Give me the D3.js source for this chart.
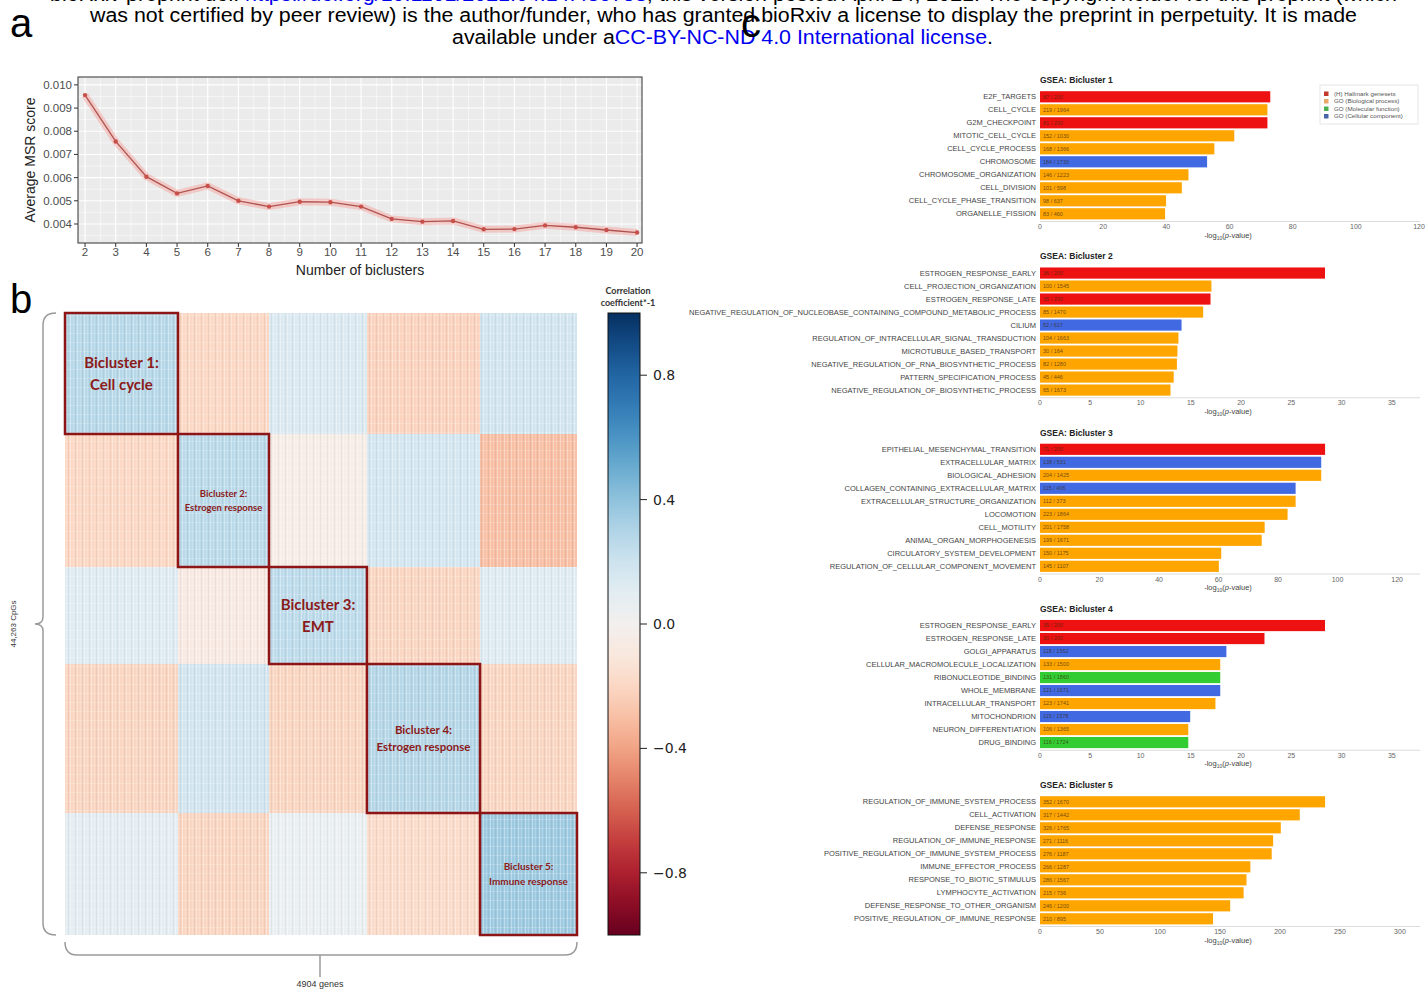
<!DOCTYPE html>
<html><head><meta charset="utf-8">
<script src="https://cdn.jsdelivr.net/npm/d3@7"></script>
<style>
body{margin:0;background:#fff;}
svg{display:block;font-family:"Liberation Sans",Arial,sans-serif;}
</style></head><body>
<svg id="fig" width="1426" height="989"></svg>
<script>
// ---------- Panel a: average MSR score by number of biclusters ----------
const kValues = [2,3,4,5,6,7,8,9,10,11,12,13,14,15,16,17,18,19,20];
const msrScores = [0.00956,0.00756,0.00604,0.00532,0.00564,0.00500,0.00475,0.00496,0.00494,
                   0.00475,0.00422,0.00410,0.00413,0.00377,0.00378,0.00394,0.00386,0.00374,0.00363];
const msrTicks = [0.004,0.005,0.006,0.007,0.008,0.009,0.010];

// ---------- Panel b: block correlation heatmap ----------
const biclusterNames = ["Bicluster 1","Bicluster 2","Bicluster 3","Bicluster 4","Bicluster 5"];
const geneCounts = [1082, 872, 938, 1083, 929];      // 4904 genes
const cpgCounts  = [8611, 9465, 6903, 10603, 8681];  // 44,263 CpGs
// mean (correlation * -1) for CpG group (row) vs gene group (column)
const blockCorr = [
  [ 0.28,-0.20, 0.14,-0.22, 0.18],
  [-0.20, 0.27,-0.05, 0.17,-0.30],
  [ 0.12,-0.08, 0.26,-0.21, 0.12],
  [-0.21, 0.18,-0.21, 0.29,-0.21],
  [ 0.10,-0.21, 0.06,-0.18, 0.36]
];
const blockLabels = [["Bicluster 1:","Cell cycle"],["Bicluster 2:","Estrogen response"],
                     ["Bicluster 3:","EMT"],["Bicluster 4:","Estrogen response"],
                     ["Bicluster 5:","Immune response"]];
const blockLabelSizes = [15, 9.5, 15, 11.5, 10];
const colorbarTicks = [0.8, 0.4, 0.0, -0.4, -0.8];

// ---------- Panel c: GSEA per bicluster ----------
const sourceNames = ["(H) Hallmark genesets","GO (Biological process)","GO (Molecular function)","GO (Cellular component)"];
const sourceKeys = ["H","BP","MF","CC"];
const sourceColors = ["#ee1111","#ffa500","#33cc33","#4169e1"];
const legendColors = ["#c0392b","#e8a868","#4caf50","#4a64a8"];

const gsea1Terms = ["E2F_TARGETS","CELL_CYCLE","G2M_CHECKPOINT","MITOTIC_CELL_CYCLE","CELL_CYCLE_PROCESS",
  "CHROMOSOME","CHROMOSOME_ORGANIZATION","CELL_DIVISION","CELL_CYCLE_PHASE_TRANSITION","ORGANELLE_FISSION"];
const gsea1Values = [72.9,72.0,72.0,61.5,55.2,52.9,47.0,44.9,39.9,39.6];
const gsea1Sources = ["H","BP","H","BP","BP","CC","BP","BP","BP","BP"];
const gsea1Counts = ["87 / 200","219 / 1964","81 / 200","152 / 1030","168 / 1366","184 / 1730","146 / 1223","101 / 598","98 / 637","83 / 460"];

const gsea2Terms = ["ESTROGEN_RESPONSE_EARLY","CELL_PROJECTION_ORGANIZATION","ESTROGEN_RESPONSE_LATE",
  "NEGATIVE_REGULATION_OF_NUCLEOBASE_CONTAINING_COMPOUND_METABOLIC_PROCESS","CILIUM",
  "REGULATION_OF_INTRACELLULAR_SIGNAL_TRANSDUCTION","MICROTUBULE_BASED_TRANSPORT",
  "NEGATIVE_REGULATION_OF_RNA_BIOSYNTHETIC_PROCESS","PATTERN_SPECIFICATION_PROCESS",
  "NEGATIVE_REGULATION_OF_BIOSYNTHETIC_PROCESS"];
const gsea2Values = [28.35,17.05,16.96,16.23,14.08,13.77,13.67,13.62,13.30,12.98];
const gsea2Sources = ["H","BP","H","BP","CC","BP","BP","BP","BP","BP"];
const gsea2Counts = ["36 / 200","100 / 1545","35 / 200","85 / 1470","52 / 617","104 / 1663","30 / 164","82 / 1280","45 / 446","65 / 1673"];

const gsea3Terms = ["EPITHELIAL_MESENCHYMAL_TRANSITION","EXTRACELLULAR_MATRIX","BIOLOGICAL_ADHESION",
  "COLLAGEN_CONTAINING_EXTRACELLULAR_MATRIX","EXTRACELLULAR_STRUCTURE_ORGANIZATION","LOCOMOTION",
  "CELL_MOTILITY","ANIMAL_ORGAN_MORPHOGENESIS","CIRCULATORY_SYSTEM_DEVELOPMENT",
  "REGULATION_OF_CELLULAR_COMPONENT_MOVEMENT"];
const gsea3Values = [95.8,94.5,94.5,85.9,85.9,83.2,75.5,74.5,60.9,60.1];
const gsea3Sources = ["H","CC","BP","CC","BP","BP","BP","BP","BP","BP"];
const gsea3Counts = ["71 / 200","138 / 531","204 / 1425","115 / 406","112 / 373","223 / 1864","201 / 1758","199 / 1671","150 / 1175","145 / 1107"];

const gsea4Terms = ["ESTROGEN_RESPONSE_EARLY","ESTROGEN_RESPONSE_LATE","GOLGI_APPARATUS",
  "CELLULAR_MACROMOLECULE_LOCALIZATION","RIBONUCLEOTIDE_BINDING","WHOLE_MEMBRANE",
  "INTRACELLULAR_TRANSPORT","MITOCHONDRION","NEURON_DIFFERENTIATION","DRUG_BINDING"];
const gsea4Values = [28.35,22.33,18.54,17.93,17.93,17.93,17.45,14.94,14.75,14.75];
const gsea4Sources = ["H","H","CC","BP","MF","CC","BP","CC","BP","MF"];
const gsea4Counts = ["35 / 200","30 / 200","118 / 1562","133 / 1500","131 / 1860","121 / 1671","123 / 1741","115 / 1578","106 / 1365","116 / 1724"];

const gsea5Terms = ["REGULATION_OF_IMMUNE_SYSTEM_PROCESS","CELL_ACTIVATION","DEFENSE_RESPONSE",
  "REGULATION_OF_IMMUNE_RESPONSE","POSITIVE_REGULATION_OF_IMMUNE_SYSTEM_PROCESS",
  "IMMUNE_EFFECTOR_PROCESS","RESPONSE_TO_BIOTIC_STIMULUS","LYMPHOCYTE_ACTIVATION",
  "DEFENSE_RESPONSE_TO_OTHER_ORGANISM","POSITIVE_REGULATION_OF_IMMUNE_RESPONSE"];
const gsea5Values = [237.6,216.5,200.7,194.3,193.1,175.3,172.1,169.7,158.5,144.2];
const gsea5Sources = ["BP","BP","BP","BP","BP","BP","BP","BP","BP","BP"];
const gsea5Counts = ["352 / 1670","317 / 1442","326 / 1765","271 / 1116","276 / 1187","266 / 1287","286 / 1567","215 / 736","246 / 1200","210 / 895"];

const gseaAxisMax = [120.3, 37.8, 127.7, 37.8, 316.7];
const gseaTicks = [d3.range(0,121,20), d3.range(0,36,5), d3.range(0,121,20), d3.range(0,36,5), d3.range(0,301,50)];

const svg = d3.select("#fig");

// ---------- preprint header ----------
const hdr = svg.append("g").attr("font-size", 20);
const l1 = hdr.append("text").attr("x", 50).attr("y", 1).attr("textLength", 1347).attr("lengthAdjust","spacingAndGlyphs");
l1.append("tspan").text("bioRxiv preprint doi: ");
l1.append("tspan").attr("fill","#0000ee").text("https://doi.org/10.1101/2021.04.14.439758");
l1.append("tspan").text("; this version posted April 14, 2021. The copyright holder for this preprint (which");
hdr.append("text").attr("x", 90).attr("y", 22).attr("textLength", 1267).attr("lengthAdjust","spacingAndGlyphs")
  .text("was not certified by peer review) is the author/funder, who has granted bioRxiv a license to display the preprint in perpetuity. It is made");
const l3 = hdr.append("text").attr("x", 452).attr("y", 44).attr("textLength", 541).attr("lengthAdjust","spacingAndGlyphs");
l3.append("tspan").text("available under a");
l3.append("tspan").attr("fill","#0000ee").text("CC-BY-NC-ND 4.0 International license");
l3.append("tspan").text(".");

// panel letters
[["a",10,37],["b",10,313],["c",741,37]].forEach(([t,x,y]) =>
  svg.append("text").attr("x",x).attr("y",y).attr("font-size",40).text(t));

// ---------- Panel a ----------
{
  const x = d3.scaleLinear().domain([1.77, 20.16]).range([78, 642]);
  const y = d3.scaleLinear().domain([0.00318, 0.01034]).range([243, 77]);
  const g = svg.append("g");
  g.append("rect").attr("x",78).attr("y",77).attr("width",564).attr("height",166).attr("fill","#ebebeb");
  const yMinor = d3.range(0.0035, 0.0101, 0.001);
  const xMinor = d3.range(2.5, 20, 1);
  g.selectAll(".ymin").data(yMinor).join("line").attr("x1",78).attr("x2",642)
    .attr("y1",d=>y(d)).attr("y2",d=>y(d)).attr("stroke","#fff").attr("stroke-width",0.5);
  g.selectAll(".xmin").data(xMinor).join("line").attr("y1",77).attr("y2",243)
    .attr("x1",d=>x(d)).attr("x2",d=>x(d)).attr("stroke","#fff").attr("stroke-width",0.5);
  g.selectAll(".ymaj").data(msrTicks).join("line").attr("x1",78).attr("x2",642)
    .attr("y1",d=>y(d)).attr("y2",d=>y(d)).attr("stroke","#fff").attr("stroke-width",1.1);
  g.selectAll(".xmaj").data(kValues).join("line").attr("y1",77).attr("y2",243)
    .attr("x1",d=>x(d)).attr("x2",d=>x(d)).attr("stroke","#fff").attr("stroke-width",1.1);
  const line = d3.line().x((d,i)=>x(kValues[i])).y(d=>y(d));
  g.append("path").datum(msrScores).attr("d",line).attr("fill","none")
    .attr("stroke","#f8766d").attr("stroke-opacity",0.3).attr("stroke-width",7).attr("stroke-linejoin","round");
  g.append("path").datum(msrScores).attr("d",line).attr("fill","none")
    .attr("stroke","#b0524e").attr("stroke-width",1.3);
  g.selectAll("circle").data(msrScores).join("circle").attr("cx",(d,i)=>x(kValues[i])).attr("cy",d=>y(d))
    .attr("r",2.2).attr("fill","#c8504b");
  g.append("rect").attr("x",78).attr("y",77).attr("width",564).attr("height",166)
    .attr("fill","none").attr("stroke","#333").attr("stroke-width",1);
  // ticks
  g.selectAll(".yt").data(msrTicks).join("line").attr("x1",74).attr("x2",78)
    .attr("y1",d=>y(d)).attr("y2",d=>y(d)).attr("stroke","#333");
  g.selectAll(".ytl").data(msrTicks).join("text").attr("x",72).attr("y",d=>y(d)).attr("dy","0.35em")
    .attr("text-anchor","end").attr("font-size",11.5).attr("fill","#4d4d4d").text(d3.format(".3f"));
  g.selectAll(".xt").data(kValues).join("line").attr("y1",243).attr("y2",247)
    .attr("x1",d=>x(d)).attr("x2",d=>x(d)).attr("stroke","#333");
  g.selectAll(".xtl").data(kValues).join("text").attr("x",d=>x(d)).attr("y",256)
    .attr("text-anchor","middle").attr("font-size",11.5).attr("fill","#4d4d4d").text(d=>d);
  g.append("text").attr("transform","translate(35,160) rotate(-90)").attr("text-anchor","middle")
    .attr("font-size",14).attr("fill","#222").text("Average MSR score");
  g.append("text").attr("x",360).attr("y",275).attr("text-anchor","middle")
    .attr("font-size",14).attr("fill","#222").text("Number of biclusters");
}

// ---------- Panel b ----------
{
  const totalGenes = d3.sum(geneCounts), totalCpG = d3.sum(cpgCounts);
  const gx = d3.scaleLinear().domain([0, totalGenes]).range([65, 577]);
  const gy = d3.scaleLinear().domain([0, totalCpG]).range([313, 935]);
  const gStart = [0, ...d3.cumsum(geneCounts)];
  const cStart = [0, ...d3.cumsum(cpgCounts)];
  const color = v => d3.interpolateRdBu((v + 1) / 2);
  const cells = [];
  blockCorr.forEach((row, r) => row.forEach((v, c) => cells.push({r, c, v})));

  const defs = svg.append("defs");
  const pat = defs.append("pattern").attr("id","geneTex").attr("patternUnits","userSpaceOnUse")
    .attr("width",7).attr("height",9);
  pat.append("rect").attr("x",0).attr("width",1).attr("height",9).attr("fill","#fff").attr("opacity",0.35);
  pat.append("rect").attr("x",3).attr("width",1).attr("height",9).attr("fill","#fff").attr("opacity",0.18);
  pat.append("rect").attr("x",5).attr("width",1).attr("height",9).attr("fill","#000").attr("opacity",0.05);
  pat.append("rect").attr("y",0).attr("width",7).attr("height",1).attr("fill","#fff").attr("opacity",0.18);

  const g = svg.append("g");
  g.selectAll("rect.cell").data(cells).join("rect").attr("class","cell")
    .attr("x", d => gx(gStart[d.c])).attr("y", d => gy(cStart[d.r]))
    .attr("width", d => gx(gStart[d.c+1]) - gx(gStart[d.c]))
    .attr("height", d => gy(cStart[d.r+1]) - gy(cStart[d.r]))
    .attr("fill", d => color(d.v)).attr("shape-rendering","crispEdges");
  g.append("rect").attr("x",65).attr("y",313).attr("width",512).attr("height",622).attr("fill","url(#geneTex)");

  // bicluster outlines
  g.selectAll("rect.box").data(biclusterNames).join("rect").attr("class","box")
    .attr("x",(d,i)=>gx(gStart[i])).attr("y",(d,i)=>gy(cStart[i]))
    .attr("width",(d,i)=>gx(gStart[i+1])-gx(gStart[i])).attr("height",(d,i)=>gy(cStart[i+1])-gy(cStart[i]))
    .attr("fill","none").attr("stroke","#8e1515").attr("stroke-width",2.5);

  // labels inside outlines
  biclusterNames.forEach((n, i) => {
    const cx = (gx(gStart[i]) + gx(gStart[i+1])) / 2;
    const cy = (gy(cStart[i]) + gy(cStart[i+1])) / 2;
    const fs = blockLabelSizes[i];
    const t = g.append("text").attr("text-anchor","middle").attr("font-family","Lato, 'Open Sans', sans-serif")
      .attr("font-weight","bold").attr("font-size",fs).attr("fill","#8b1a1a");
    blockLabels[i].forEach((s, k) => t.append("tspan").attr("x",cx)
      .attr("y", cy + (k - 0.5) * fs * 1.45 + fs * 0.35).text(s));
  });

  // braces
  g.append("path").attr("d","M56,313 Q43,313 43,325 L43,617 Q43,624 35,624 Q43,624 43,631 L43,923 Q43,935 56,935")
    .attr("fill","none").attr("stroke","#9a9a9a").attr("stroke-width",1.5);
  g.append("text").attr("transform","translate(16,624) rotate(-90)").attr("text-anchor","middle")
    .attr("font-size",8).attr("fill","#333").text("44,263 CpGs");
  g.append("path").attr("d","M65,942 Q65,955 77,955 L565,955 Q577,955 577,942 M320,955 L320,977")
    .attr("fill","none").attr("stroke","#9a9a9a").attr("stroke-width",1.5);
  g.append("text").attr("x",320).attr("y",987).attr("text-anchor","middle")
    .attr("font-size",9).attr("fill","#333").text("4904 genes");

  // colour bar
  const cy = d3.scaleLinear().domain([-1, 1]).range([935, 313]);
  const grad = defs.append("linearGradient").attr("id","rdbu").attr("x1",0).attr("x2",0).attr("y1",1).attr("y2",0);
  d3.range(0, 1.0001, 0.05).forEach(t => grad.append("stop").attr("offset", t).attr("stop-color", d3.interpolateRdBu(t)));
  g.append("rect").attr("x",608).attr("y",313).attr("width",32).attr("height",622)
    .attr("fill","url(#rdbu)").attr("stroke","#111").attr("stroke-width",1);
  g.selectAll(".cbt").data(colorbarTicks).join("line").attr("x1",640).attr("x2",647)
    .attr("y1",d=>cy(d)).attr("y2",d=>cy(d)).attr("stroke","#222");
  g.selectAll(".cbl").data(colorbarTicks).join("text").attr("x",653).attr("y",d=>cy(d)).attr("dy","0.35em")
    .attr("font-family","'DejaVu Sans', sans-serif").attr("font-size",14).attr("fill","#222")
    .text(d3.format(".1f"));
  const ct = g.append("text").attr("text-anchor","middle").attr("font-family","Lato, sans-serif")
    .attr("font-weight","bold").attr("font-size",9).attr("fill","#333");
  ct.append("tspan").attr("x",628).attr("y",294).text("Correlation");
  ct.append("tspan").attr("x",628).attr("y",306).text("coefficient*-1");
}

// ---------- Panel c ----------
{
  const sets = [
    {terms: gsea1Terms, values: gsea1Values, sources: gsea1Sources, counts: gsea1Counts},
    {terms: gsea2Terms, values: gsea2Values, sources: gsea2Sources, counts: gsea2Counts},
    {terms: gsea3Terms, values: gsea3Values, sources: gsea3Sources, counts: gsea3Counts},
    {terms: gsea4Terms, values: gsea4Values, sources: gsea4Sources, counts: gsea4Counts},
    {terms: gsea5Terms, values: gsea5Values, sources: gsea5Sources, counts: gsea5Counts}
  ];
  const srcColor = d3.scaleOrdinal().domain(sourceKeys).range(sourceColors);
  sets.forEach((s, i) => {
    const top = 80 + i * 176.25;
    const g = svg.append("g");
    const x = d3.scaleLinear().domain([0, gseaAxisMax[i]]).range([1040, 1420]);
    const y = d3.scaleBand().domain(s.terms).range([top + 10.3, top + 140.3]).paddingInner(0.14).paddingOuter(0.07);
    g.append("text").attr("x",1040).attr("y",top+3).attr("font-weight","bold").attr("font-size",8.5)
      .attr("fill","#222").text("GSEA: " + biclusterNames[i]);
    g.selectAll("rect").data(s.values).join("rect")
      .attr("x", x(0)).attr("y", (d,k)=>y(s.terms[k])).attr("height", y.bandwidth())
      .attr("width", d => x(d) - x(0)).attr("fill", (d,k)=>srcColor(s.sources[k]));
    g.selectAll(".term").data(s.terms).join("text").attr("x",1036).attr("y",d=>y(d)+y.bandwidth()/2)
      .attr("dy","0.35em").attr("text-anchor","end").attr("font-size",7.5).attr("fill","#444").text(d=>d);
    g.selectAll(".cnt").data(s.counts).join("text").attr("x",1043).attr("y",(d,k)=>y(s.terms[k])+y.bandwidth()/2)
      .attr("dy","0.35em").attr("font-size",5.5).attr("fill","#3a2a10").attr("fill-opacity",0.75).text(d=>d);
    g.append("line").attr("x1",1040).attr("x2",1420).attr("y1",top+141.5).attr("y2",top+141.5)
      .attr("stroke","#dcdcdc").attr("stroke-width",1);
    g.selectAll(".tk").data(gseaTicks[i]).join("text").attr("x",d=>x(d)).attr("y",top+149)
      .attr("text-anchor","middle").attr("font-size",7).attr("fill","#666").text(d=>d);
    const at = g.append("text").attr("x",1228).attr("y",top+157.5).attr("text-anchor","middle")
      .attr("font-size",7.5).attr("fill","#444");
    at.append("tspan").text("-log");
    at.append("tspan").attr("font-size",5).attr("dy",2).text("10");
    at.append("tspan").attr("dy",-2).text("(");
    at.append("tspan").attr("font-style","italic").text("p");
    at.append("tspan").text("-value)");
  });
  // legend
  const lg = svg.append("g");
  lg.append("rect").attr("x",1320).attr("y",85).attr("width",98).attr("height",39)
    .attr("fill","#fff").attr("stroke","#e6e6e6");
  lg.selectAll("rect.sw").data(sourceNames).join("rect").attr("class","sw")
    .attr("x",1324).attr("y",(d,i)=>91.5+i*7.5).attr("width",4.5).attr("height",4.5)
    .attr("fill",(d,i)=>legendColors[i]);
  lg.selectAll("text").data(sourceNames).join("text").attr("x",1334).attr("y",(d,i)=>93.7+i*7.5)
    .attr("dy","0.35em").attr("font-size",6.2).attr("fill","#555").text(d=>d);
}
</script>
</body></html>
